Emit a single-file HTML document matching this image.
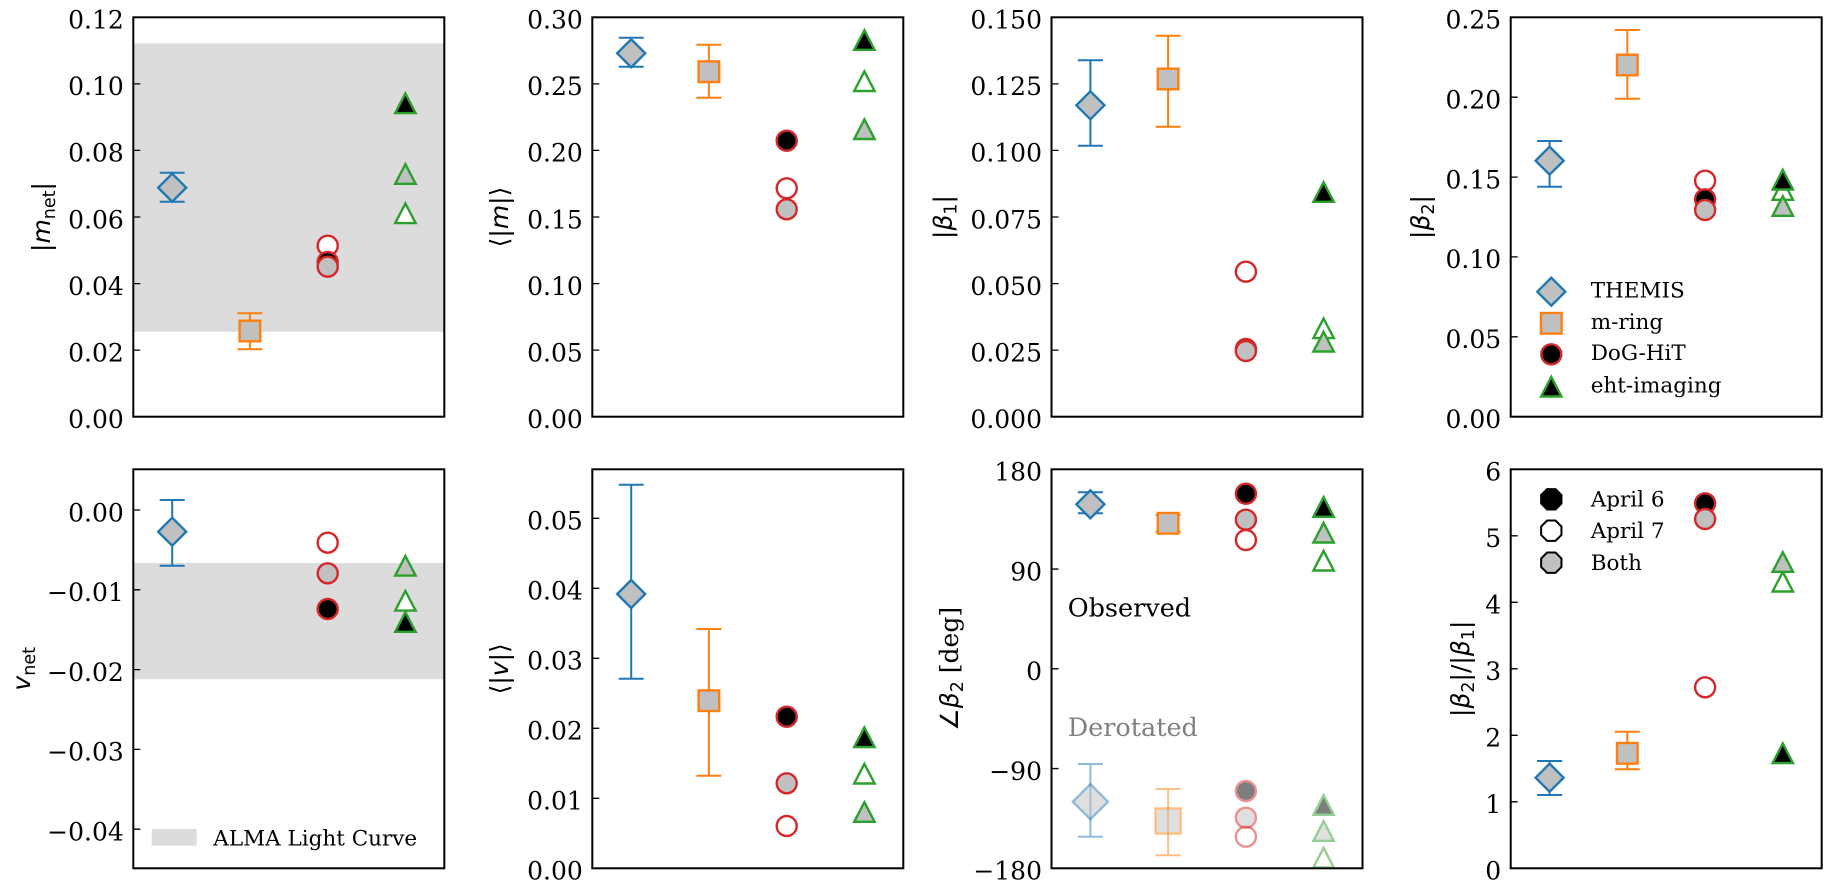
<!DOCTYPE html>
<html><head><meta charset="utf-8"><style>
html,body{margin:0;padding:0;background:#fff;}
svg{display:block;}
.tk{font-family:"DejaVu Serif","Liberation Serif",serif;font-size:25px;fill:#000;text-anchor:end;}
.lab{font-family:"DejaVu Sans","Liberation Sans",sans-serif;font-size:25px;fill:#000;text-anchor:middle;}
.it{font-style:italic;}
.ser{font-family:"DejaVu Serif","Liberation Serif",serif;}
.leg{font-family:"DejaVu Serif","Liberation Serif",serif;font-size:21.5px;fill:#000;}
.e1{stroke:#1f77b4;stroke-width:2;fill:none;}
.e2{stroke:#ff7f0e;stroke-width:2;fill:none;}
.mD{fill:#c0c0c0;stroke:#1f77b4;stroke-width:2.4;}
.mS{fill:#c0c0c0;stroke:#ff7f0e;stroke-width:2.4;}
.cB{fill:#000;stroke:#d62728;stroke-width:2.4;}
.cW{fill:#fff;stroke:#d62728;stroke-width:2.4;}
.cG{fill:#c0c0c0;stroke:#d62728;stroke-width:2.4;}
.tB{fill:#000;stroke:#2ca02c;stroke-width:2.4;stroke-linejoin:miter;}
.tW{fill:#fff;stroke:#2ca02c;stroke-width:2.4;stroke-linejoin:miter;}
.tG{fill:#c0c0c0;stroke:#2ca02c;stroke-width:2.4;stroke-linejoin:miter;}
.al{opacity:0.5;}
.fr{fill:none;stroke:#000;stroke-width:2;}
.ti{stroke:#000;stroke-width:1.3;}
</style></head><body>
<svg width="1839" height="895" viewBox="0 0 1839 895" xmlns="http://www.w3.org/2000/svg">
<defs>
<polygon id="D" points="0,-14 14,0 0,14 -14,0"/>
<polygon id="DL" points="0,-17.5 17.5,0 0,17.5 -17.5,0"/>
<rect id="S" x="-10.3" y="-10.3" width="20.6" height="20.6"/>
<rect id="SL" x="-12.5" y="-12.5" width="25" height="25"/>
<circle id="C" r="10"/>
<polygon id="T" points="0,-9.8 10.2,9.8 -10.2,9.8"/>
<polygon id="O" points="10.16,4.21 4.21,10.16 -4.21,10.16 -10.16,4.21 -10.16,-4.21 -4.21,-10.16 4.21,-10.16 10.16,-4.21"/>
</defs>
<rect width="1839" height="895" fill="#fff"/>

<!-- ===== Panel 1 ===== -->
<rect x="133.3" y="43.3" width="311" height="288.4" fill="#dcdcdc"/>
<path class="e1" d="M172.2 172.7V201.7M159.7 172.7H184.7M159.7 201.7H184.7"/>
<use href="#D" x="172.2" y="187.7" class="mD"/>
<path class="e2" d="M249.9 313.3V349.3M237.4 313.3H262.4M237.4 349.3H262.4"/>
<use href="#S" x="249.9" y="331" class="mS"/>
<use href="#C" x="327.7" y="245.7" class="cW"/>
<use href="#C" x="327.7" y="262" class="cB"/>
<use href="#C" x="327.7" y="266.7" class="cG"/>
<use href="#T" x="405.4" y="213.3" class="tW"/>
<use href="#T" x="405.4" y="103.3" class="tB"/>
<use href="#T" x="405.4" y="174" class="tG"/>
<rect class="fr" x="133.3" y="17.3" width="311" height="399.4"/>
<g class="ti"><path d="M133.3 350.1h7M133.3 283.6h7M133.3 217h7M133.3 150.4h7M133.3 83.9h7"/></g>
<g class="tk">
<text x="123.8" y="428">0.00</text><text x="123.8" y="361.4">0.02</text><text x="123.8" y="294.9">0.04</text><text x="123.8" y="228.3">0.06</text><text x="123.8" y="161.7">0.08</text><text x="123.8" y="95.2">0.10</text><text x="123.8" y="28.6">0.12</text>
</g>
<text class="lab" transform="translate(50,217) rotate(-90)">|<tspan class="it">m</tspan><tspan font-size="17.5" dy="5">net</tspan><tspan dy="-5">|</tspan></text>

<!-- ===== Panel 2 ===== -->
<path class="e1" d="M631.2 37.7V66.7M618.7 37.7H643.7M618.7 66.7H643.7"/>
<use href="#D" x="631.2" y="53.3" class="mD"/>
<path class="e2" d="M708.9 44.7V97.7M696.4 44.7H721.4M696.4 97.7H721.4"/>
<use href="#S" x="708.9" y="71.7" class="mS"/>
<use href="#C" x="786.7" y="188.3" class="cW"/>
<use href="#C" x="786.7" y="140.7" class="cB"/>
<use href="#C" x="786.7" y="209.3" class="cG"/>
<use href="#T" x="864.4" y="81.2" class="tW"/>
<use href="#T" x="864.4" y="40" class="tB"/>
<use href="#T" x="864.4" y="129.2" class="tG"/>
<rect class="fr" x="592.3" y="17.3" width="311" height="399.4"/>
<g class="ti"><path d="M592.3 350.1h7M592.3 283.6h7M592.3 217h7M592.3 150.4h7M592.3 83.9h7"/></g>
<g class="tk">
<text x="582.8" y="428">0.00</text><text x="582.8" y="361.4">0.05</text><text x="582.8" y="294.9">0.10</text><text x="582.8" y="228.3">0.15</text><text x="582.8" y="161.7">0.20</text><text x="582.8" y="95.2">0.25</text><text x="582.8" y="28.6">0.30</text>
</g>
<text class="lab" transform="translate(508,217) rotate(-90)">⟨|<tspan class="it">m</tspan>|⟩</text>

<!-- ===== Panel 3 ===== -->
<path class="e1" d="M1090.4 60.3V145.7M1077.9 60.3H1102.9M1077.9 145.7H1102.9"/>
<use href="#D" x="1090.4" y="105.3" class="mD"/>
<path class="e2" d="M1168.1 35.7V126.7M1155.6 35.7H1180.6M1155.6 126.7H1180.6"/>
<use href="#S" x="1168.1" y="79" class="mS"/>
<use href="#C" x="1245.9" y="271.7" class="cW"/>
<use href="#C" x="1245.9" y="349" class="cB"/>
<use href="#C" x="1245.9" y="351" class="cG"/>
<use href="#T" x="1323.6" y="328.3" class="tW"/>
<use href="#T" x="1323.6" y="192" class="tB"/>
<use href="#T" x="1323.6" y="341.7" class="tG"/>
<rect class="fr" x="1051.5" y="17.3" width="311" height="399.4"/>
<g class="ti"><path d="M1051.5 350.1h7M1051.5 283.6h7M1051.5 217h7M1051.5 150.4h7M1051.5 83.9h7"/></g>
<g class="tk">
<text x="1042" y="428">0.000</text><text x="1042" y="361.4">0.025</text><text x="1042" y="294.9">0.050</text><text x="1042" y="228.3">0.075</text><text x="1042" y="161.7">0.100</text><text x="1042" y="95.2">0.125</text><text x="1042" y="28.6">0.150</text>
</g>
<text class="lab" transform="translate(951.5,217) rotate(-90)">|<tspan class="it">β</tspan><tspan font-size="17.5" dy="5">1</tspan><tspan dy="-5">|</tspan></text>

<!-- ===== Panel 4 ===== -->
<path class="e1" d="M1549.6 141V186.7M1537.1 141H1562.1M1537.1 186.7H1562.1"/>
<use href="#D" x="1549.6" y="160.7" class="mD"/>
<path class="e2" d="M1627.3 30V98.7M1614.8 30H1639.8M1614.8 98.7H1639.8"/>
<use href="#S" x="1627.3" y="65" class="mS"/>
<use href="#C" x="1705.1" y="180.7" class="cW"/>
<use href="#C" x="1705.1" y="199.3" class="cB"/>
<use href="#C" x="1705.1" y="210" class="cG"/>
<use href="#T" x="1782.8" y="190" class="tW"/>
<use href="#T" x="1782.8" y="179.7" class="tB"/>
<use href="#T" x="1782.8" y="206" class="tG"/>
<!-- legend -->
<use href="#D" x="1551.3" y="291.7" class="mD"/>
<use href="#S" x="1551.3" y="323.3" class="mS"/>
<use href="#C" x="1551.3" y="354.3" class="cB"/>
<use href="#T" x="1551.3" y="386.7" class="tB"/>
<g class="leg">
<text x="1590.7" y="297.5">THEMIS</text>
<text x="1590.7" y="329">m-ring</text>
<text x="1590.7" y="360.2">DoG-HiT</text>
<text x="1590.7" y="392.5">eht-imaging</text>
</g>
<rect class="fr" x="1510.7" y="17.3" width="311" height="399.4"/>
<g class="ti"><path d="M1510.7 336.8h7M1510.7 256.9h7M1510.7 177.1h7M1510.7 97.2h7"/></g>
<g class="tk">
<text x="1501.2" y="428">0.00</text><text x="1501.2" y="348.1">0.05</text><text x="1501.2" y="268.2">0.10</text><text x="1501.2" y="188.4">0.15</text><text x="1501.2" y="108.5">0.20</text><text x="1501.2" y="28.6">0.25</text>
</g>
<text class="lab" transform="translate(1429,217) rotate(-90)">|<tspan class="it">β</tspan><tspan font-size="17.5" dy="5">2</tspan><tspan dy="-5">|</tspan></text>

<!-- ===== Panel 5 ===== -->
<rect x="133.3" y="563" width="311" height="116.3" fill="#dcdcdc"/>
<path class="e1" d="M172.2 500V565.7M159.7 500H184.7M159.7 565.7H184.7"/>
<use href="#D" x="172.2" y="531.7" class="mD"/>
<use href="#C" x="327.7" y="542.7" class="cW"/>
<use href="#C" x="327.7" y="609" class="cB"/>
<use href="#C" x="327.7" y="573.3" class="cG"/>
<use href="#T" x="405.4" y="600.8" class="tW"/>
<use href="#T" x="405.4" y="622" class="tB"/>
<use href="#T" x="405.4" y="565.8" class="tG"/>
<rect x="151.7" y="829" width="45" height="16.7" fill="#dcdcdc"/>
<text class="leg" x="213.3" y="845.7">ALMA Light Curve</text>
<rect class="fr" x="133.3" y="469.3" width="311" height="399"/>
<g class="ti"><path d="M133.3 510h7M133.3 589.8h7M133.3 669.6h7M133.3 749.4h7M133.3 829.2h7"/></g>
<g class="tk">
<text x="123.8" y="521.3">0.00</text><text x="123.8" y="601.1">−0.01</text><text x="123.8" y="680.9">−0.02</text><text x="123.8" y="760.7">−0.03</text><text x="123.8" y="840.5">−0.04</text>
</g>
<text class="lab" transform="translate(30,668.8) rotate(-90)"><tspan class="it">v</tspan><tspan font-size="17.5" dy="5">net</tspan></text>

<!-- ===== Panel 6 ===== -->
<path class="e1" d="M631.2 484.7V678.7M618.7 484.7H643.7M618.7 678.7H643.7"/>
<use href="#D" x="631.2" y="594" class="mD"/>
<path class="e2" d="M708.9 629V775.7M696.4 629H721.4M696.4 775.7H721.4"/>
<use href="#S" x="708.9" y="700.7" class="mS"/>
<use href="#C" x="786.7" y="826" class="cW"/>
<use href="#C" x="786.7" y="716.7" class="cB"/>
<use href="#C" x="786.7" y="783.3" class="cG"/>
<use href="#T" x="864.4" y="773.7" class="tW"/>
<use href="#T" x="864.4" y="737.3" class="tB"/>
<use href="#T" x="864.4" y="812" class="tG"/>
<rect class="fr" x="592.3" y="469.3" width="311" height="399"/>
<g class="ti"><path d="M592.3 798.3h7M592.3 728.3h7M592.3 658.3h7M592.3 588.3h7M592.3 518.3h7"/></g>
<g class="tk">
<text x="582.8" y="879.6">0.00</text><text x="582.8" y="809.6">0.01</text><text x="582.8" y="739.6">0.02</text><text x="582.8" y="669.6">0.03</text><text x="582.8" y="599.6">0.04</text><text x="582.8" y="529.6">0.05</text>
</g>
<text class="lab" transform="translate(508,668.8) rotate(-90)">⟨|<tspan class="it">v</tspan>|⟩</text>

<!-- ===== Panel 7 ===== -->
<path class="e1" d="M1090.4 492.3V513.3M1077.9 492.3H1102.9M1077.9 513.3H1102.9"/>
<use href="#D" x="1090.4" y="504.3" class="mD"/>
<path class="e2" d="M1168.1 515V531.7M1155.6 515H1180.6M1155.6 531.7H1180.6"/>
<use href="#S" x="1168.1" y="523.3" class="mS"/>
<use href="#C" x="1245.9" y="540" class="cW"/>
<use href="#C" x="1245.9" y="493.7" class="cB"/>
<use href="#C" x="1245.9" y="519.7" class="cG"/>
<use href="#T" x="1323.6" y="560.7" class="tW"/>
<use href="#T" x="1323.6" y="507" class="tB"/>
<use href="#T" x="1323.6" y="532.7" class="tG"/>
<!-- derotated -->
<g class="al"><path class="e1" d="M1090.4 764V836.7M1077.9 764H1102.9M1077.9 836.7H1102.9"/></g>
<use href="#DL" x="1090.4" y="801.7" class="mD al"/>
<g class="al"><path class="e2" d="M1168.1 789V855.3M1155.6 789H1180.6M1155.6 855.3H1180.6"/></g>
<use href="#SL" x="1168.1" y="821" class="mS al"/>
<use href="#C" x="1245.9" y="836.7" class="cW al"/>
<use href="#C" x="1245.9" y="791" class="cB al"/>
<use href="#C" x="1245.9" y="817.7" class="cG al"/>
<use href="#T" x="1323.6" y="857.7" class="tW al"/>
<use href="#T" x="1323.6" y="805" class="tB al"/>
<use href="#T" x="1323.6" y="831" class="tG al"/>
<text x="1067.7" y="616.7" font-family="DejaVu Serif, Liberation Serif, serif" font-size="25.5" fill="#000">Observed</text>
<text x="1067.7" y="736" font-family="DejaVu Serif, Liberation Serif, serif" font-size="25.5" fill="#808080">Derotated</text>
<rect class="fr" x="1051.5" y="469.3" width="311" height="399"/>
<g class="ti"><path d="M1051.5 768.55h7M1051.5 668.8h7M1051.5 569.05h7"/></g>
<g class="tk">
<text x="1042" y="879.6">−180</text><text x="1042" y="779.9">−90</text><text x="1042" y="680.1">0</text><text x="1042" y="580.4">90</text><text x="1042" y="480.6">180</text>
</g>
<text class="lab" transform="translate(958,668.8) rotate(-90)">∠<tspan class="it">β</tspan><tspan font-size="17.5" dy="5">2</tspan><tspan dy="-5" class="ser"> [deg]</tspan></text>

<!-- ===== Panel 8 ===== -->
<path class="e1" d="M1549.6 761V795M1537.1 761H1562.1M1537.1 795H1562.1"/>
<use href="#D" x="1549.6" y="777.7" class="mD"/>
<path class="e2" d="M1627.3 731.7V769.3M1614.8 731.7H1639.8M1614.8 769.3H1639.8"/>
<use href="#S" x="1627.3" y="753.3" class="mS"/>
<use href="#C" x="1705.1" y="687.3" class="cW"/>
<use href="#C" x="1705.1" y="503.3" class="cB"/>
<use href="#C" x="1705.1" y="519" class="cG"/>
<use href="#T" x="1782.8" y="581.7" class="tW"/>
<use href="#T" x="1782.8" y="753.3" class="tB"/>
<use href="#T" x="1782.8" y="562" class="tG"/>
<!-- legend -->
<use href="#O" x="1551.3" y="499.3" fill="#000" stroke="#000" stroke-width="2"/>
<use href="#O" x="1551.3" y="530.7" fill="#fff" stroke="#000" stroke-width="2"/>
<use href="#O" x="1551.3" y="562.7" fill="#c0c0c0" stroke="#000" stroke-width="2"/>
<g class="leg">
<text x="1590.7" y="506.5">April 6</text>
<text x="1590.7" y="538">April 7</text>
<text x="1590.7" y="570">Both</text>
</g>
<rect class="fr" x="1510.7" y="469.3" width="311" height="399"/>
<g class="ti"><path d="M1510.7 801.8h7M1510.7 735.3h7M1510.7 668.8h7M1510.7 602.3h7M1510.7 535.8h7"/></g>
<g class="tk">
<text x="1501.2" y="879.6">0</text><text x="1501.2" y="813.1">1</text><text x="1501.2" y="746.6">2</text><text x="1501.2" y="680.1">3</text><text x="1501.2" y="613.6">4</text><text x="1501.2" y="547.1">5</text><text x="1501.2" y="480.6">6</text>
</g>
<text class="lab" transform="translate(1469,668.8) rotate(-90)">|<tspan class="it">β</tspan><tspan font-size="17.5" dy="5">2</tspan><tspan dy="-5">|/|</tspan><tspan class="it">β</tspan><tspan font-size="17.5" dy="5">1</tspan><tspan dy="-5">|</tspan></text>
</svg>
</body></html>
